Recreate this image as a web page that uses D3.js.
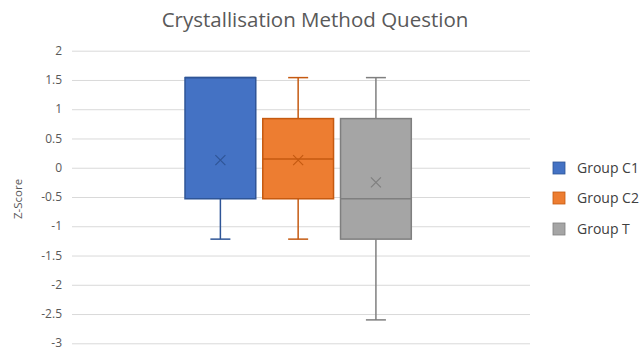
<!DOCTYPE html>
<html>
<head>
<meta charset="utf-8">
<script src="https://cdn.jsdelivr.net/npm/d3@7"></script>
<style>
  html, body { margin: 0; padding: 0; background: #fff; }
  svg { display: block; font-family: "Open Sans", sans-serif; }
</style>
</head>
<body>
<svg id="chart" width="642" height="350"></svg>
<script>
// Box-and-whisker summary per group (Z-scores)
const groups   = ["Group C1", "Group C2", "Group T"];
const minVals  = [-1.22, -1.22, -2.60];
const q1Vals   = [-0.53, -0.53, -1.22];
const medVals  = [1.54, 0.15, -0.53];
const q3Vals   = [1.54, 0.84, 0.84];
const maxVals  = [1.54, 1.54, 1.54];
const meanVals = [0.13, 0.13, -0.25];
const yTicks   = [2, 1.5, 1, 0.5, 0, -0.5, -1, -1.5, -2, -2.5, -3];

const fills   = ["#4472C4", "#ED7D31", "#A5A5A5"];
const strokes = ["#2F5597", "#C55A11", "#7F7F7F"];

const svg = d3.select("#chart");
const plot = { left: 72, right: 530, top: 50.7, bottom: 343.3 };

const y = d3.scaleLinear().domain([-3, 2]).range([plot.bottom, plot.top]);
const x = d3.scaleBand().domain(groups).range([185, 411.3]).paddingInner(0.09);

// Title
svg.append("text")
  .attr("x", 315).attr("y", 27)
  .attr("text-anchor", "middle")
  .attr("fill", "#595959")
  .attr("font-size", 20.5)
  .text("Crystallisation Method Question");

// Gridlines and tick labels
const yAxis = d3.axisLeft(y).tickValues(yTicks)
  .tickSize(-(plot.right - plot.left)).tickPadding(10)
  .tickFormat(d => String(d));
const ga = svg.append("g").attr("transform", `translate(${plot.left},0)`).call(yAxis);
ga.select(".domain").remove();
ga.selectAll(".tick line").attr("stroke", "#D9D9D9").attr("stroke-width", 1);
ga.selectAll(".tick text").attr("fill", "#595959").attr("font-size", 12)
  .attr("dy", "0.3em")
  .attr("font-family", "'Open Sans', sans-serif");

// Axis title
svg.append("text")
  .attr("transform", `translate(22,${(plot.top + plot.bottom) / 2 + 2}) rotate(-90)`)
  .attr("text-anchor", "middle")
  .attr("fill", "#595959")
  .attr("font-size", 11.5)
  .text("Z-Score");

// Boxes
const capW = 20;
groups.forEach((g, i) => {
  const x0 = x(g), w = x.bandwidth(), cx = x0 + w / 2;
  const gg = svg.append("g");
  // whiskers
  [[q3Vals[i], maxVals[i]], [q1Vals[i], minVals[i]]].forEach(([a, b]) => {
    if (a === b) return;
    gg.append("line").attr("x1", cx).attr("x2", cx)
      .attr("y1", y(a)).attr("y2", y(b))
      .attr("stroke", strokes[i]).attr("stroke-width", 1.5);
    gg.append("line").attr("x1", cx - capW / 2).attr("x2", cx + capW / 2)
      .attr("y1", y(b)).attr("y2", y(b))
      .attr("stroke", strokes[i]).attr("stroke-width", 1.5);
  });
  // box
  gg.append("rect")
    .attr("x", x0).attr("width", w)
    .attr("y", y(q3Vals[i])).attr("height", y(q1Vals[i]) - y(q3Vals[i]))
    .attr("fill", fills[i]).attr("stroke", strokes[i]).attr("stroke-width", 1.5);
  // median
  gg.append("line").attr("x1", x0).attr("x2", x0 + w)
    .attr("y1", y(medVals[i])).attr("y2", y(medVals[i]))
    .attr("stroke", strokes[i]).attr("stroke-width", 1.5);
  // mean marker
  const s = 5, my = y(meanVals[i]);
  gg.append("path")
    .attr("d", `M${cx - s},${my - s}L${cx + s},${my + s}M${cx - s},${my + s}L${cx + s},${my - s}`)
    .attr("stroke", strokes[i]).attr("stroke-width", 1.2).attr("fill", "none");
});

// Legend
const legendY = [168, 198, 229];
groups.forEach((g, i) => {
  svg.append("rect").attr("x", 553).attr("y", legendY[i] - 6).attr("width", 12).attr("height", 12)
    .attr("fill", fills[i]).attr("stroke", strokes[i]).attr("stroke-width", 0.8);
  svg.append("text").attr("x", 577).attr("y", legendY[i]).attr("dy", "0.35em")
    .attr("fill", "#404040").attr("font-size", 14).text(g);
});
</script>
</body>
</html>
